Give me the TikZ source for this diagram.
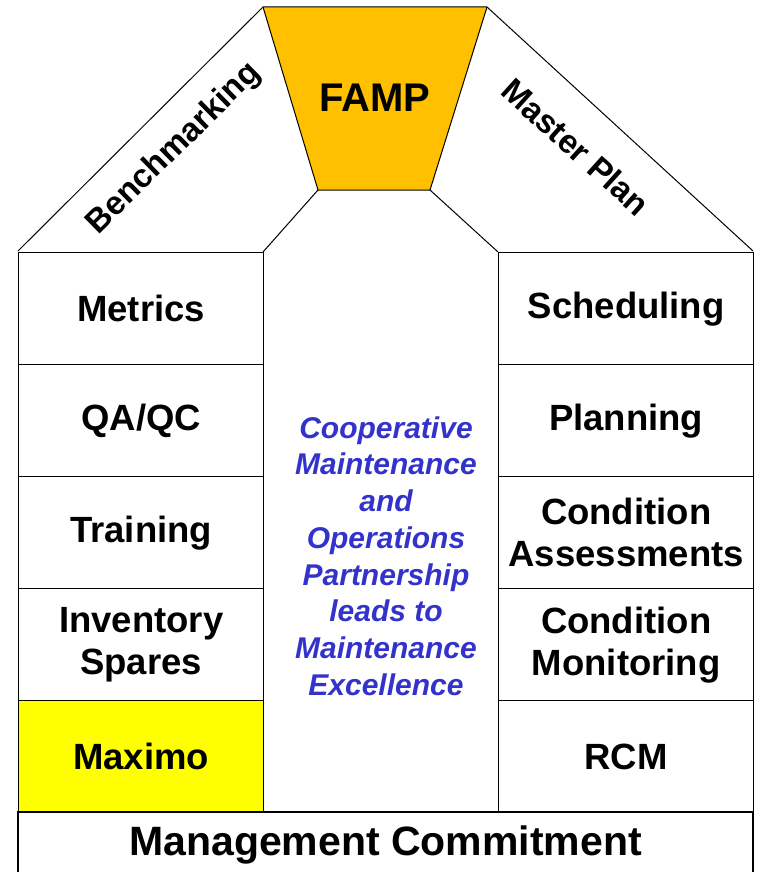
\documentclass[tikz,border=0pt]{standalone}
\usepackage{fontspec}
\setmainfont{Liberation Sans}
\definecolor{famp}{RGB}{255,192,0}
\definecolor{maxi}{RGB}{255,255,0}
\definecolor{blu}{RGB}{51,51,204}
\begin{document}
\begin{tikzpicture}[x=1pt,y=-1pt,
  lbl/.style={font=\bfseries\fontsize{36}{42}\selectfont,align=center,inner sep=0pt},
  rooflbl/.style={font=\bfseries\fontsize{33}{40}\selectfont,inner sep=0pt},
  boxL/.style={draw,line width=1.3pt,minimum width=245pt,minimum height=112pt,inner sep=0pt,anchor=north west,align=center,font=\bfseries\fontsize{36.5}{42}\selectfont},
  boxR/.style={boxL,minimum width=255pt},
  roof/.style={line width=1pt}]
\useasboundingbox (0,0) rectangle (757,872);
\clip (0,0) rectangle (757,872);
% roof
\coordinate (rl) at (18,251);
\coordinate (tl) at (263,7);
\coordinate (tr) at (487,7);
\coordinate (rr) at (753,251);
\coordinate (bl) at (318,190);
\coordinate (br) at (430,190);
\coordinate (cl) at (263,252);
\coordinate (cr) at (498,252);
\fill[famp] (tl) -- (tr) -- (br) -- (bl) -- cycle;
\draw[roof,line join=miter] (rl) -- (tl) -- (tr) -- (rr);
\draw[roof] (tl) -- (bl) -- (br) -- (tr);
\draw[roof] (bl) -- (cl);
\draw[roof] (br) -- (cr);
\node[lbl,font=\bfseries\fontsize{40}{42}\selectfont] (famp) at (375,98) {FAMP};
\node[rooflbl,rotate=44.5] (bench) at (174,149) {Benchmarking};
\node[rooflbl,rotate=-42] (mplan) at (576,147) {Master Plan};
% left column
\node[boxL] (metrics) at (18,252) {Metrics};
\node[boxL] (qaqc) at (18,364) {QA/QC};
\node[boxL] (train) at (18,476) {Training};
\node[boxL] (inv) at (18,588) {Inventory\\Spares};
\node[boxL,fill=maxi] (maximo) at (18,700) {Maximo};
% right column
\node[boxR] (sched) at (498,252) {Scheduling};
\node[boxR] (plan) at (498,364) {Planning};
\node[boxR] (ca) at (498,476) {Condition\\Assessments};
\node[boxR] (cm) at (498,588) {Condition\\Monitoring};
\node[boxR] (rcm) at (498,700) {RCM};
% bottom
\draw[line width=1.3pt] (18,890) -- (18,812) -- (753,812) -- (753,890);
\node[font=\bfseries\fontsize{41}{42}\selectfont,inner sep=0pt] (mgmt) at (385.5,845) {Management Commitment};
% centre text
\node[font=\bfseries\itshape\fontsize{30}{36.7}\selectfont,text=blu,align=center,inner sep=0pt] (centre) at (386,556) {Cooperative\\Maintenance\\and\\Operations\\Partnership\\leads to\\Maintenance\\Excellence};
\end{tikzpicture}
\end{document}
